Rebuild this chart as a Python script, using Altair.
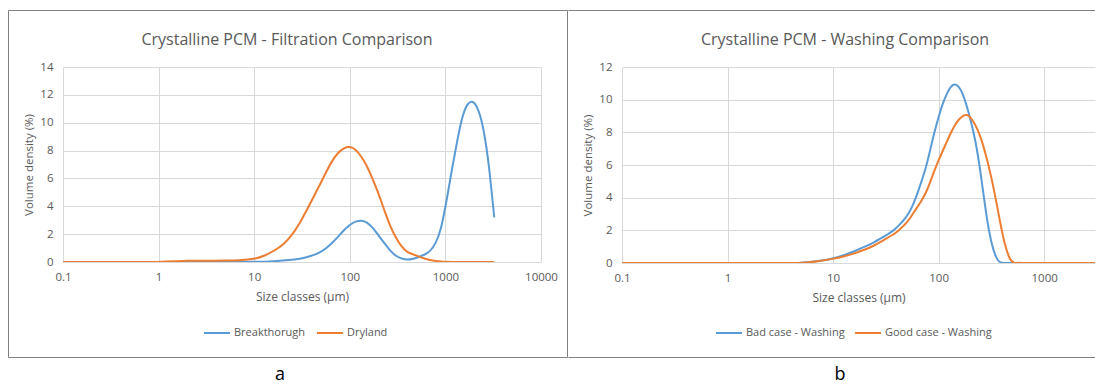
import altair as alt
import pandas as pd

# ---------------- data ----------------
filt_size = [0.1, 0.2, 0.5, 1, 1.5, 2, 3, 5, 7, 10,
             13, 16, 20, 25, 30, 36, 42, 49, 57, 65,
             75, 87, 100, 115, 133, 150, 175, 200, 230, 265,
             300, 350, 400, 460, 530, 600, 690, 790, 900, 1030,
             1180, 1330, 1500, 1700, 1900, 2150, 2450, 2800, 3050, 3245]
breakthrough = [0, 0, 0, 0, 0, 0, 0, 0, 0.01, 0.01,
                0.02, 0.05, 0.1, 0.15, 0.22, 0.35, 0.5, 0.7, 1.0, 1.35,
                1.8, 2.3, 2.68, 2.93, 3.0, 2.88, 2.45, 1.9, 1.35, 0.8,
                0.45, 0.22, 0.15, 0.22, 0.38, 0.5, 0.75, 1.3, 2.3, 4.4,
                6.8, 8.7, 10.5, 11.4, 11.6, 11.2, 10.0, 7.5, 5.0, 3.2]
dryland = [0, 0, 0, 0, 0.05, 0.1, 0.08, 0.1, 0.12, 0.2,
           0.45, 0.8, 1.2, 1.95, 2.8, 3.8, 4.7, 5.6, 6.5, 7.25,
           7.85, 8.2, 8.3, 8.1, 7.55, 6.95, 5.9, 4.9, 3.7, 2.55,
           1.8, 1.05, 0.7, 0.55, 0.38, 0.25, 0.14, 0.07, 0.03, 0.01,
           0, 0, 0, 0, 0, 0, 0, 0, 0, 0]
filt_names = ["Breakthorugh", "Dryland"]
filt_ticks = [0.1, 1, 10, 100, 1000, 10000]

wash_size = [0.1, 1, 3, 5, 5.6, 7, 10, 13, 15.4, 20,
             24, 30, 37, 42, 49, 55, 61, 68, 76, 83,
             91, 100, 109, 120, 130, 141, 155, 170, 185, 200,
             224, 251, 281, 315, 352, 380, 420, 477, 513, 600,
             1000, 2000, 3500]
bad_case = [0, 0, 0, 0, 0.04, 0.1, 0.27, 0.5, 0.68, 1.0,
            1.23, 1.6, 1.95, 2.3, 2.77, 3.3, 4.0, 4.9, 5.85, 6.9,
            8.0, 8.95, 9.75, 10.4, 10.8, 10.97, 10.85, 10.35, 9.6, 8.8,
            7.5, 5.47, 3.0, 1.18, 0.27, 0.02, 0, 0, 0, 0,
            0, 0, 0]
good_case = [0, 0, 0, 0, 0.03, 0.09, 0.25, 0.42, 0.55, 0.82,
             1.03, 1.4, 1.72, 2.0, 2.4, 2.85, 3.3, 3.75, 4.3, 4.95,
             5.64, 6.3, 6.85, 7.45, 7.95, 8.4, 8.8, 9.02, 9.1, 8.95,
             8.45, 7.7, 6.6, 5.3, 3.75, 2.6, 1.15, 0.12, 0, 0,
             0, 0, 0]
wash_names = ["Bad case - Washing", "Good case - Washing"]
wash_ticks = [0.1, 1, 10, 100, 1000]
wash_x_max = 3030  # visible end of the (cropped) right-hand axis

# ---------------- styling ----------------
BLUE = "#5B9BD5"
ORANGE = "#ED7D31"
FONT = "Open Sans"
TXT = "#595959"
GRID = "#D9D9D9"
BORDER = "#808080"


def one_row():
    return alt.Data(values=[{"k": 1}])


def make_panel(sizes, s1, s2, names, x_max, x_ticks, y_max, width, height,
               title, title_x, title_y, letter, letter_x, letter_y,
               legend_x, legend_y, col_pad, frame_layers):
    df = pd.DataFrame({
        "size": list(sizes) * 2,
        "value": list(s1) + list(s2),
        "series": [names[0]] * len(sizes) + [names[1]] * len(sizes),
    })
    x = alt.X("size:Q",
              scale=alt.Scale(type="log", domain=[0.1, x_max], nice=False),
              axis=alt.Axis(values=x_ticks, format="~g", title="Size classes (µm)",
                            grid=True, gridColor=GRID, domain=False, ticks=False,
                            labelFlush=False, labelFont=FONT, labelFontSize=11.5,
                            labelColor=TXT, labelPadding=9, labelOverlap=False,
                            titleFont=FONT, titleFontSize=12, titleFontWeight="normal",
                            titleColor=TXT, titlePadding=9))
    y = alt.Y("value:Q",
              scale=alt.Scale(domain=[0, y_max], nice=False),
              axis=alt.Axis(values=list(range(0, y_max + 1, 2)), title="Volume density (%)",
                            grid=True, gridColor=GRID, domain=False, ticks=False,
                            labelFont=FONT, labelFontSize=11.5, labelColor=TXT,
                            labelPadding=10, titleFont=FONT, titleFontSize=11.5,
                            titleFontWeight="normal", titleColor=TXT, titlePadding=5))
    color = alt.Color("series:N",
                      scale=alt.Scale(domain=names, range=[BLUE, ORANGE]),
                      legend=alt.Legend(orient="none", legendX=legend_x, legendY=legend_y,
                                        direction="horizontal", title=None,
                                        symbolType="stroke", symbolSize=676,
                                        symbolStrokeWidth=2, labelOffset=3,
                                        columnPadding=col_pad, padding=0,
                                        labelFont=FONT, labelFontSize=11,
                                        labelColor=TXT))
    base = alt.Chart(df)
    line1 = base.transform_filter(alt.datum.series == names[0]).mark_line(
        strokeWidth=2, interpolate="basis", clip=True).encode(x=x, y=y, color=color)
    line2 = base.transform_filter(alt.datum.series == names[1]).mark_line(
        strokeWidth=2, interpolate="basis", clip=True).encode(x=x, y=y, color=color)
    title_mark = alt.Chart(one_row()).mark_text(
        font=FONT, fontSize=16, color=TXT, align="center", baseline="alphabetic"
    ).encode(x=alt.value(title_x), y=alt.value(title_y), text=alt.value(title))
    letter_mark = alt.Chart(one_row()).mark_text(
        font=FONT, fontSize=18, color="#000000", align="center", baseline="alphabetic"
    ).encode(x=alt.value(letter_x), y=alt.value(letter_y), text=alt.value(letter))
    return alt.layer(*frame_layers, title_mark, letter_mark, line1, line2).properties(
        width=width, height=height)


# left panel frame: full box
left_frame = [
    alt.Chart(one_row()).mark_rect(fill="transparent", stroke=BORDER, strokeWidth=1).encode(
        x=alt.value(-54.5), x2=alt.value(504.5), y=alt.value(-56.5), y2=alt.value(290.5))
]
# right panel frame: top and bottom edges (its left edge is the shared divider)
right_frame = [
    alt.Chart(one_row()).mark_rule(color=BORDER, strokeWidth=1).encode(
        x=alt.value(-53.5), x2=alt.value(473), y=alt.value(-56.5)),
    alt.Chart(one_row()).mark_rule(color=BORDER, strokeWidth=1).encode(
        x=alt.value(-53.5), x2=alt.value(473), y=alt.value(290.5)),
]

left = make_panel(filt_size, breakthrough, dryland, filt_names, 10000, filt_ticks, 14,
                  478, 195, "Crystalline PCM - Filtration Comparison", 224, -22,
                  "a", 217, 312.5, 140, 252, 8, left_frame)
right = make_panel(wash_size, bad_case, good_case, wash_names, wash_x_max, wash_ticks, 12,
                   473, 196, "Crystalline PCM - Washing Comparison", 223, -22,
                   "b", 218, 312.5, 93, 252, 6, right_frame)

chart = alt.hconcat(left, right, spacing=0).resolve_scale(
    color="independent").resolve_legend(color="independent").properties(
    padding={"left": 0, "top": 2, "right": 0, "bottom": 0},
    background="white").configure_view(strokeWidth=0)

chart.save("out.html", embed_options={"renderer": "svg", "actions": False})
